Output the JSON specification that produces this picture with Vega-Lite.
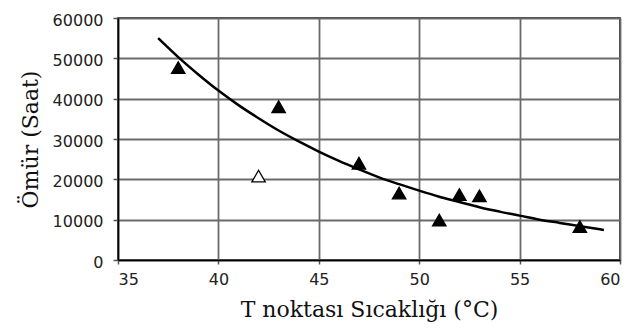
{
  "$schema": "https://vega.github.io/schema/vega-lite/v6.json",
  "autosize": {"type": "none"},
  "padding": {"left": 118, "top": 18, "right": 12, "bottom": 74},
  "width": 502,
  "height": 242,
  "background": "white",
  "config": {
    "view": {"stroke": "black", "strokeWidth": 1.5},
    "axis": {
      "labelFont": "DejaVu Sans",
      "labelFontSize": 16,
      "labelColor": "#222",
      "titleFontWeight": "normal",
      "titleColor": "#111",
      "domainColor": "black",
      "domainWidth": 1.5,
      "tickColor": "#555",
      "tickWidth": 1.5,
      "gridColor": "#6a6a6a",
      "gridWidth": 1.8,
      "gridOpacity": 1
    }
  },
  "datasets": {
    "curve": [
      {"t": 37, "omur": 55000}, {"t": 38, "omur": 50300}, {"t": 39, "omur": 46000},
      {"t": 40, "omur": 42000}, {"t": 41, "omur": 38400}, {"t": 42, "omur": 35150},
      {"t": 43, "omur": 32100}, {"t": 44, "omur": 29400}, {"t": 45, "omur": 26900},
      {"t": 46, "omur": 24600}, {"t": 47, "omur": 22500}, {"t": 48, "omur": 20500},
      {"t": 49, "omur": 18800}, {"t": 50, "omur": 17200}, {"t": 51, "omur": 15700},
      {"t": 52, "omur": 14400}, {"t": 53, "omur": 13100}, {"t": 54, "omur": 12000},
      {"t": 55, "omur": 11000}, {"t": 56, "omur": 10000}, {"t": 57, "omur": 9200},
      {"t": 58, "omur": 8400}, {"t": 59, "omur": 7600}, {"t": 59.2, "omur": 7450}
    ],
    "points": [
      {"t": 38, "omur": 47700, "kind": "dolu"},
      {"t": 43, "omur": 38000, "kind": "dolu"},
      {"t": 42, "omur": 20800, "kind": "boş"},
      {"t": 47, "omur": 24000, "kind": "dolu"},
      {"t": 49, "omur": 16600, "kind": "dolu"},
      {"t": 51, "omur": 9900, "kind": "dolu"},
      {"t": 52, "omur": 16200, "kind": "dolu"},
      {"t": 53, "omur": 15900, "kind": "dolu"},
      {"t": 58, "omur": 8300, "kind": "dolu"}
    ]
  },
  "encoding": {
    "x": {
      "field": "t", "type": "quantitative",
      "scale": {"domain": [35, 60], "nice": false, "zero": false},
      "axis": {
        "values": [35, 40, 45, 50, 55, 60],
        "title": "T noktası Sıcaklığı (°C)",
        "titleFont": "DejaVu Serif",
        "titleFontSize": 22,
        "tickSize": 4,
        "labelPadding": 7,
        "titlePadding": 12
      }
    },
    "y": {
      "field": "omur", "type": "quantitative",
      "scale": {"domain": [0, 60000], "nice": false},
      "axis": {
        "values": [0, 10000, 20000, 30000, 40000, 50000, 60000],
        "format": "d",
        "title": "Ömür (Saat)",
        "titleFont": "DejaVu Serif",
        "titleFontSize": 22,
        "tickSize": 5,
        "labelPadding": 10,
        "labelOffset": 2,
        "titlePadding": 10
      }
    }
  },
  "layer": [
    {
      "data": {"name": "curve"},
      "mark": {"type": "line", "color": "black", "strokeWidth": 2.5, "interpolate": "monotone"}
    },
    {
      "data": {"name": "points"},
      "mark": {"type": "point", "shape": "triangle-up", "size": 180, "stroke": "black", "strokeWidth": 1.3, "opacity": 1, "filled": true},
      "encoding": {
        "fill": {
          "field": "kind", "type": "nominal",
          "scale": {"domain": ["dolu", "boş"], "range": ["black", "white"]},
          "legend": null
        }
      }
    }
  ]
}
